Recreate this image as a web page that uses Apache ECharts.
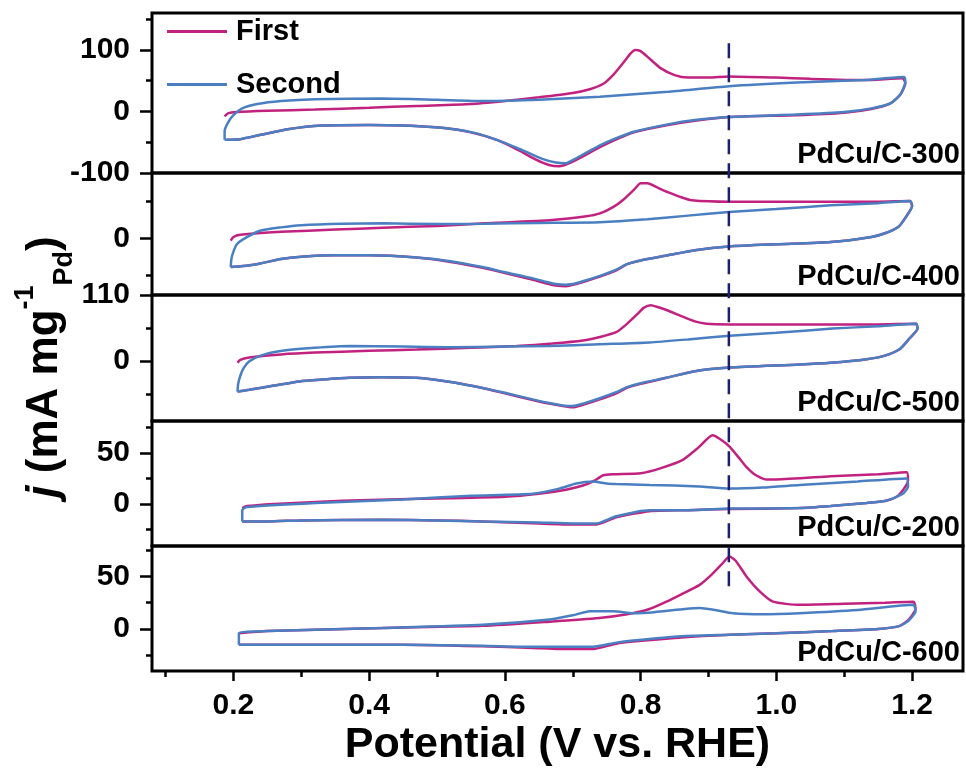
<!DOCTYPE html>
<html><head><meta charset="utf-8">
<script src="https://cdn.jsdelivr.net/npm/echarts@6.0.0/dist/echarts.min.js"></script>
<style>html,body{margin:0;padding:0;background:#fff}#c{width:966px;height:771px}</style>
</head><body><div id="c"></div>
<script>
// ---------- data ----------
const panelNames = ['PdCu/C-300', 'PdCu/C-400', 'PdCu/C-500', 'PdCu/C-200', 'PdCu/C-600'];
const seriesNames = ['First', 'Second'];
const xRange = [0.08, 1.275];
const xTickMajor = [0.2, 0.4, 0.6, 0.8, 1.0, 1.2];
const xTickMinor = [0.1, 0.3, 0.5, 0.7, 0.9, 1.1];
const yMin = [-100, -77, -100, -41, -40];
const yMax = [160, 89, 110, 81, 79];
const yTickMajor = [[-100, 0, 100], [0], [0, 110], [0, 50], [0, 50]];
const yTickMinor = [[-50, 50, 150], [-50, 50], [-55, 55], [-25, 25, 75], [-25, 25, 75]];
const dashPotential = 0.93;
const dashSpan = [0.046, 0.877]; // fraction of the stacked plot height (top to bottom)

const p300First = [[0.187,-8],[0.192,-3],[0.205,-1],[0.25,1],[0.32,3],[0.40,6],[0.47,9],[0.55,12],[0.60,17],[0.65,23],[0.70,30],[0.725,36],[0.745,45],[0.76,60],[0.775,80],[0.785,94],[0.792,100],[0.80,98],[0.813,86],[0.83,70],[0.85,59],[0.87,55],[0.90,55],[0.93,57],[1.0,55],[1.05,53],[1.13,51],[1.186,54],
  [1.19,46],[1.183,28],[1.168,13],[1.14,4],[1.10,-2],[1.03,-6],[0.93,-9],[0.88,-15],[0.84,-22],[0.79,-34],[0.765,-45],[0.74,-58],[0.715,-73],[0.695,-84],[0.68,-89],[0.665,-87],[0.645,-78],[0.62,-63],[0.59,-47],[0.55,-34],[0.51,-27],[0.45,-23],[0.40,-22],[0.33,-23],[0.28,-29],[0.24,-38],[0.21,-45],[0.19,-46]];
const p300Second = [[0.187,-46],[0.187,-32],[0.192,-18],[0.20,-6],[0.213,5],[0.235,12],[0.27,17],[0.32,20],[0.42,21],[0.50,19],[0.57,17],[0.65,19],[0.74,24],[0.84,32],[0.93,41],[1.03,47],[1.13,51],[1.188,56],
  [1.19,48],[1.183,28],[1.168,13],[1.14,5],[1.10,-1],[1.03,-5],[0.93,-9],[0.88,-14],[0.84,-21],[0.79,-33],[0.765,-43],[0.74,-55],[0.72,-67],[0.70,-79],[0.69,-84],[0.675,-83],[0.655,-77],[0.63,-65],[0.60,-51],[0.56,-36],[0.52,-28],[0.45,-23],[0.40,-22],[0.33,-23],[0.28,-29],[0.24,-38],[0.21,-45],[0.187,-46]];

const p400First = [[0.196,-3],[0.20,2],[0.21,5],[0.27,9],[0.35,12],[0.42,14.5],[0.50,17],[0.57,20.5],[0.67,25],[0.72,30],[0.74,34],[0.76,43],[0.775,53],[0.79,66],[0.80,75],[0.81,75],[0.825,69],[0.84,63],[0.86,56],[0.875,52],[0.93,50],[1.0,50],[1.08,50],[1.15,50],[1.197,51],
  [1.20,44],[1.19,28],[1.18,16],[1.16,7],[1.14,2],[1.08,-5],[1.0,-8],[0.93,-11],[0.88,-16],[0.84,-23],[0.80,-30],[0.78,-35],[0.765,-43],[0.74,-52],[0.72,-58],[0.705,-62],[0.69,-65],[0.675,-64],[0.66,-61],[0.64,-56],[0.60,-47],[0.567,-40],[0.52,-32],[0.47,-26],[0.40,-23],[0.35,-23],[0.30,-25],[0.27,-28],[0.24,-34],[0.21,-38],[0.196,-39]];
const p400Second = [[0.196,-39],[0.197,-28],[0.20,-18],[0.205,-8],[0.213,-2],[0.238,10],[0.27,15],[0.30,18],[0.36,20],[0.42,20.5],[0.50,19.5],[0.57,20],[0.65,21],[0.74,22],[0.81,26],[0.87,31],[0.93,36],[1.0,40],[1.08,45],[1.15,48],[1.197,51],
  [1.20,44],[1.19,28],[1.18,16],[1.16,7],[1.14,2],[1.08,-5],[1.0,-8],[0.93,-11],[0.88,-16],[0.84,-23],[0.80,-30],[0.78,-35],[0.765,-42],[0.74,-51],[0.72,-57],[0.705,-61],[0.69,-63],[0.675,-62],[0.66,-59],[0.64,-54],[0.60,-46],[0.567,-39],[0.52,-31],[0.47,-26],[0.40,-23],[0.35,-23],[0.30,-25],[0.27,-28],[0.24,-34],[0.21,-38],[0.196,-39]];

const p500First = [[0.206,-3],[0.21,2],[0.223,6],[0.27,11],[0.32,14],[0.40,17],[0.47,19],[0.55,22],[0.617,25],[0.67,29],[0.715,34],[0.74,40],[0.764,48],[0.78,62],[0.795,78],[0.805,89],[0.815,93],[0.825,90],[0.838,85],[0.862,74],[0.88,66],[0.897,62],[0.931,61],[1.0,61],[1.08,61],[1.15,61],[1.206,62],
  [1.208,54],[1.195,36],[1.182,20],[1.16,9],[1.133,3],[1.08,-3],[1.034,-6],[0.931,-11],[0.88,-17],[0.838,-28],[0.80,-38],[0.779,-45],[0.764,-54],[0.74,-64],[0.715,-73],[0.70,-77],[0.685,-75],[0.665,-71],[0.641,-65],[0.60,-54],[0.567,-45],[0.52,-35],[0.469,-28],[0.42,-27],[0.371,-28],[0.33,-31],[0.297,-34],[0.26,-41],[0.223,-48],[0.206,-51]];
const p500Second = [[0.206,-51],[0.207,-38],[0.21,-25],[0.215,-12],[0.223,-1],[0.24,9],[0.272,17],[0.32,22],[0.371,25],[0.45,24],[0.518,23],[0.60,24],[0.666,25],[0.739,28],[0.813,31],[0.87,36],[0.931,42],[1.0,47],[1.083,54],[1.15,58],[1.206,62],
  [1.208,54],[1.195,36],[1.182,20],[1.16,9],[1.133,3],[1.08,-3],[1.034,-6],[0.931,-11],[0.88,-17],[0.838,-28],[0.80,-37],[0.779,-44],[0.764,-52],[0.74,-62],[0.715,-71],[0.70,-75],[0.685,-74],[0.665,-70],[0.641,-64],[0.60,-53],[0.567,-45],[0.52,-35],[0.469,-28],[0.42,-27],[0.371,-28],[0.33,-31],[0.297,-34],[0.26,-41],[0.223,-48],[0.206,-51]];

const p200First = [[0.213,-4],[0.22,-2],[0.26,0],[0.321,2],[0.40,4],[0.518,5.5],[0.60,7],[0.65,10],[0.69,14],[0.715,18],[0.73,22],[0.745,28],[0.76,29],[0.80,30],[0.83,35],[0.862,43],[0.885,55],[0.906,67],[0.92,62],[0.931,56],[0.945,45],[0.956,36],[0.97,28],[0.985,24],[1.0,24],[1.08,27],[1.15,29],[1.192,31],
  [1.194,23],[1.188,15],[1.177,7],[1.16,3],[1.133,1],[1.08,-2],[1.034,-4],[0.931,-5],[0.87,-6],[0.813,-7],[0.764,-13],[0.735,-20],[0.70,-20],[0.65,-19],[0.567,-17],[0.50,-16],[0.42,-15.5],[0.30,-16],[0.25,-17],[0.213,-17]];
const p200Second = [[0.213,-17],[0.213,-6],[0.22,-3],[0.321,1],[0.45,4.5],[0.55,8],[0.641,10],[0.68,15],[0.705,20],[0.73,22],[0.75,20],[0.764,19.5],[0.813,18.5],[0.85,18],[0.887,17],[0.931,15],[0.98,16],[1.034,18.5],[1.12,22],[1.192,25],
  [1.194,17],[1.188,11],[1.177,7],[1.16,3],[1.133,1],[1.08,-2],[1.034,-4],[0.931,-4.5],[0.87,-6],[0.813,-6],[0.764,-12],[0.735,-19],[0.70,-19],[0.65,-18],[0.567,-17],[0.50,-16],[0.42,-15.5],[0.30,-16],[0.25,-17],[0.213,-17]];

const p600First = [[0.208,-4],[0.25,-2],[0.42,1],[0.567,3],[0.666,7],[0.739,10.5],[0.78,14],[0.813,19],[0.838,26],[0.86,33],[0.887,42],[0.905,52],[0.92,62],[0.931,69],[0.94,65],[0.956,50],[0.975,36],[0.995,26],[1.034,23],[1.10,24],[1.16,25],[1.202,26],
  [1.205,19],[1.195,9],[1.182,3],[1.15,0],[1.083,-2],[1.0,-4],[0.931,-5.5],[0.86,-8],[0.789,-12],[0.764,-14],[0.73,-19],[0.68,-19],[0.641,-18],[0.567,-16.5],[0.45,-15],[0.30,-15],[0.208,-15]];
const p600Second = [[0.208,-15],[0.208,-4],[0.25,-2],[0.42,1],[0.567,4],[0.666,9],[0.70,13],[0.725,17],[0.76,17],[0.789,15],[0.82,16],[0.865,19],[0.887,20],[0.91,18],[0.936,15],[0.98,14],[1.034,15],[1.12,18],[1.202,23],
  [1.205,17],[1.195,8],[1.182,3],[1.15,0],[1.083,-2],[1.0,-4],[0.931,-5.5],[0.86,-7],[0.789,-11],[0.764,-13],[0.73,-17],[0.68,-17],[0.641,-17],[0.567,-16],[0.45,-15],[0.30,-15],[0.208,-15]];

const firstData = [p300First, p400First, p500First, p200First, p600First];
const secondData = [p300Second, p400Second, p500Second, p200Second, p600Second];

// ---------- layout / style ----------
const FONT = '"Liberation Sans", Arial, sans-serif';
const colors = ['#C2227F', '#4A7FC1'];
const plotLeft = 152, plotRight = 3;
const gridTop = [13, 173, 295, 421, 546];
const gridH = [160, 122, 126, 125, 125];
const N = panelNames.length;

const grids = [], xAxes = [], yAxes = [], series = [], graphics = [];
for (let i = 0; i < N; i++) {
  grids.push({left: plotLeft, right: plotRight, top: gridTop[i], height: gridH[i], show: true, outerBoundsMode: 'none', containLabel: false,
    borderColor: '#000', borderWidth: 3, backgroundColor: 'transparent'});
  const isBottom = i === N - 1;
  xAxes.push({type: 'value', gridIndex: i, min: xRange[0], max: xRange[1], show: isBottom, position: 'bottom',
    axisLine: {show: false, onZero: false}, splitLine: {show: false},
    axisTick: {show: isBottom, length: 10, lineStyle: {color: '#000', width: 2.5}, customValues: xTickMajor},
    axisLabel: {show: isBottom, customValues: xTickMajor, margin: 20, fontSize: 30, fontWeight: 'bold', fontFamily: FONT, color: '#000',
      formatter: v => v.toFixed(1)},
    name: isBottom ? 'Potential (V vs. RHE)' : '', nameLocation: 'middle', nameGap: 53,
    nameTextStyle: {fontSize: 43, fontWeight: 'bold', fontFamily: FONT, color: '#000'}});
  yAxes.push({type: 'value', gridIndex: i, min: yMin[i], max: yMax[i], position: 'left',
    axisLine: {show: false, onZero: false}, splitLine: {show: false},
    axisTick: {show: true, length: 12, lineStyle: {color: '#000', width: 2.5}, customValues: yTickMajor[i]},
    axisLabel: {customValues: yTickMajor[i], margin: 22, fontSize: 30, fontWeight: 'bold', fontFamily: FONT, color: '#000'}});
  series.push({name: seriesNames[0], type: 'line', xAxisIndex: i, yAxisIndex: i, data: firstData[i],
    symbol: 'none', smooth: 0.2, lineStyle: {color: colors[0], width: 2.5}, itemStyle: {color: colors[0]}, z: 3});
  series.push({name: seriesNames[1], type: 'line', xAxisIndex: i, yAxisIndex: i, data: secondData[i],
    symbol: 'none', smooth: 0.2, lineStyle: {color: colors[1], width: 2.5}, itemStyle: {color: colors[1]}, z: 4});
  graphics.push({type: 'text', right: 6, top: gridTop[i] + gridH[i] - 33, z: 10,
    style: {text: panelNames[i], fontSize: 29, fontWeight: 'bold', fontFamily: FONT, fill: '#000'}});
}
// minor ticks
for (let i = 0; i < N; i++) {
  yAxes.push({type: 'value', gridIndex: i, min: yMin[i], max: yMax[i], position: 'left',
    axisLine: {show: false, onZero: false}, splitLine: {show: false},
    axisTick: {show: true, length: 6, lineStyle: {color: '#000', width: 2.5}, customValues: yTickMinor[i]},
    axisLabel: {show: false}});
}
xAxes.push({type: 'value', gridIndex: N - 1, min: xRange[0], max: xRange[1], position: 'bottom',
  axisLine: {show: false, onZero: false}, splitLine: {show: false},
  axisTick: {show: true, length: 6, lineStyle: {color: '#000', width: 2.5}, customValues: xTickMinor},
  axisLabel: {show: false}});
// overlay grid for the dashed reference line
const overlayGrid = grids.length;
grids.push({left: plotLeft, right: plotRight, top: gridTop[0], height: gridTop[N - 1] + gridH[N - 1] - gridTop[0], show: false, outerBoundsMode: 'none', containLabel: false});
xAxes.push({type: 'value', gridIndex: overlayGrid, min: xRange[0], max: xRange[1], show: false});
yAxes.push({type: 'value', gridIndex: overlayGrid, min: 0, max: 1, inverse: true, show: false});
series.push({type: 'line', xAxisIndex: xAxes.length - 1, yAxisIndex: yAxes.length - 1,
  data: [[dashPotential, dashSpan[0]], [dashPotential, dashSpan[1]]], symbol: 'none', silent: true, z: 6,
  lineStyle: {color: '#1B1F6E', width: 2.5, type: [15, 9]}});

graphics.push({type: 'text', x: 45, y: 367, rotation: Math.PI / 2, z: 10,
  style: {text: '{j|j}{n| (mA mg}{sup|-1}{sub|Pd}{n|)}', align: 'center', verticalAlign: 'middle',
    rich: {
      j: {fontSize: 44, fontWeight: 'bold', fontStyle: 'italic', fontFamily: FONT, fill: '#000', lineHeight: 66},
      n: {fontSize: 44, fontWeight: 'bold', fontFamily: FONT, fill: '#000', lineHeight: 66},
      sup: {fontSize: 27, fontWeight: 'bold', fontFamily: FONT, fill: '#000', lineHeight: 30, verticalAlign: 'top'},
      sub: {fontSize: 27, fontWeight: 'bold', fontFamily: FONT, fill: '#000', lineHeight: 30, verticalAlign: 'bottom'}
    }}});

const chart = echarts.init(document.getElementById('c'), null, {renderer: 'canvas'});
chart.setOption({
  animation: false,
  backgroundColor: '#fff',
  grid: grids, xAxis: xAxes, yAxis: yAxes, series: series, graphic: graphics,
  legend: {data: seriesNames, left: 162, top: 12, orient: 'vertical', icon: 'rect', itemWidth: 60, itemHeight: 3,
    itemGap: 24, selectedMode: false,
    textStyle: {fontSize: 29, fontWeight: 'bold', fontFamily: FONT, color: '#000', lineHeight: 28, padding: [0, 0, 0, 4]}}
});
</script></body></html>
